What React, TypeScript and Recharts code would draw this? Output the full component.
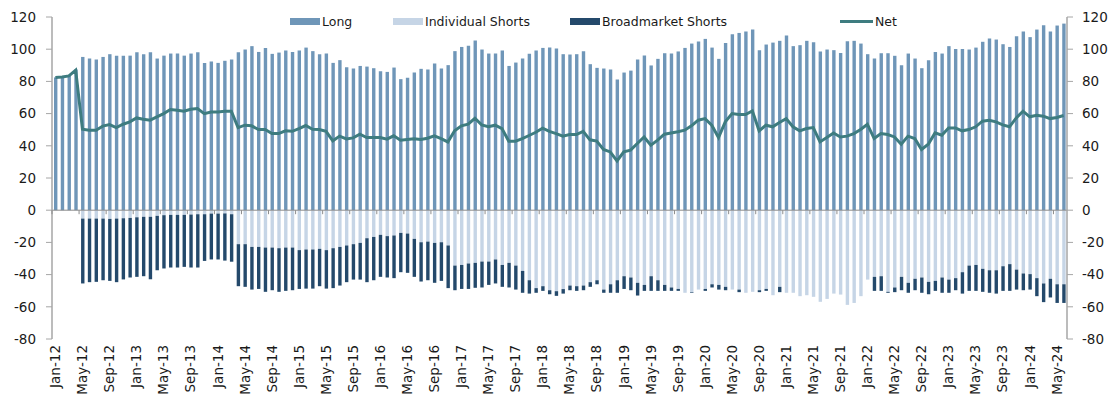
import { ComposedChart, Bar, Line, XAxis, YAxis, ReferenceLine } from 'recharts'

const MONTHS = ['Jan', 'Feb', 'Mar', 'Apr', 'May', 'Jun', 'Jul', 'Aug', 'Sep', 'Oct', 'Nov', 'Dec']

// Jan-12 .. Jun-24
const dates = Array.from({ length: 150 }, (_, i) => `${MONTHS[i % 12]}-${12 + Math.floor(i / 12)}`)

const long = [
  82.5, 83, 83.4, 87.4, 95.2, 94.2, 93.6, 95.2, 96.9, 96,
  96, 96, 98.1, 96.9, 98.1, 94.2, 96, 97.3, 97.3, 96,
  97.3, 98.1, 91.5, 92.3, 91.5, 92.8, 93.6, 98.1, 99.8, 101.9,
  98.3, 100.8, 97.1, 97.9, 99.2, 98.3, 99.2, 101, 98.8, 96.9,
  97.3, 91.5, 93.2, 88.8, 88, 89.6, 89.2, 88.2, 86.3, 85.9,
  88.6, 81.4, 82.2, 85.5, 87.8, 87.4, 91.1, 88, 90.1, 98.8,
  101.4, 102.1, 105.4, 99.8, 97.3, 97.3, 99.2, 89.6, 91.7, 94.2,
  97.1, 99.2, 100.8, 101, 100.4, 96.9, 96.7, 96.9, 98.8, 90.7,
  88.4, 88, 87.4, 81.2, 85.5, 86.7, 93.6, 96.1, 89.9, 94,
  97.5, 97.3, 98.6, 100.8, 103.5, 104.8, 106.4, 101, 94, 103.9,
  109.3, 110.1, 111, 112.2, 99.4, 102.9, 104.1, 105.2, 108.5, 101.9,
  102.5, 105.2, 104.3, 98.6, 99.8, 99.4, 97.7, 105, 105.2, 103.5,
  96.9, 94.2, 97.5, 97.5, 95.9, 90.1, 97.3, 94.2, 88.2, 93.2,
  98.3, 97.3, 101.9, 100.2, 100.2, 99.8, 101, 104.6, 106.6, 106,
  103.1, 101.4, 108.1, 111, 107.5, 112.2, 114.9, 111, 114.7, 115.9
]

const individualShorts = [
  0, 0, 0, 0, -5.2, -5.2, -5.2, -5.2, -5.4, -5.2,
  -5, -4.8, -4.4, -4.1, -4.1, -3.5, -3.1, -2.9, -2.9, -2.9,
  -2.7, -2.5, -2.5, -2.1, -2.1, -2, -2.5, -21.1, -21.1, -22.8,
  -22.8, -23.2, -23.2, -23.6, -23.2, -23.2, -24.8, -24.4, -24.4, -24,
  -24.8, -23.6, -22.8, -21.9, -21.1, -20.3, -17.4, -16.6, -15.3, -16.1,
  -15.7, -14.1, -14.5, -17.8, -19.9, -19.5, -20.3, -19.9, -21.9, -34.4,
  -34, -33.1, -32.7, -31.9, -31.9, -30.6, -34, -32.7, -34.4, -37.7,
  -43.5, -48.4, -47.2, -49.7, -50.3, -49, -46.8, -47.2, -46.8, -44.7,
  -43.5, -49.3, -46, -43.5, -41, -41.8, -45.1, -46.4, -41, -43.5,
  -46.4, -48, -48.9, -51.3, -50.9, -49.3, -48.9, -46, -46.4, -47.6,
  -49.3, -49.3, -51.3, -50.7, -49.7, -48.9, -52.8, -47.6, -51.3, -51.3,
  -53.4, -52.8, -53.8, -56.9, -55.1, -51.8, -52.4, -58.8, -57.6, -53.4,
  -43.1, -41.4, -41, -50.7, -48, -41.4, -45.1, -42.6, -41.8, -44.5,
  -43.9, -41.8, -43.1, -42.2, -38.5, -34.4, -34, -36.4, -37.3, -37.3,
  -34.8, -33.5, -36.9, -39.3, -39.7, -42.2, -45.5, -42.6, -46, -46
]

const broadmarketShorts = [
  0, 0, 0, 0, -40.3, -39.5, -39.3, -38.3, -38.5, -39.5,
  -38, -37, -37, -36.9, -38.8, -33.8, -33.1, -32.7, -32.7, -32.3,
  -32.9, -33.1, -29, -28.5, -28.5, -29.3, -29.5, -26.1, -26.5, -26.5,
  -26.1, -27.5, -26.5, -27.1, -26.9, -26.5, -24.1, -24.3, -24.3, -23.2,
  -23.9, -24.8, -24, -22.8, -22, -22.8, -27.3, -26.9, -26.1, -25.7,
  -26.5, -24.4, -24.4, -23.6, -24.4, -24, -24.8, -24, -26.5, -15.3,
  -14.9, -15.8, -15.5, -16.1, -14.5, -14.9, -13.6, -15.3, -14.9, -13.6,
  -8.3, -2.9, -2.9, -2.5, -2.9, -2.8, -2.9, -2.9, -2.9, -2.9,
  -2.5, -2, -5.3, -7.8, -7.9, -7.9, -7.9, -3.7, -9.1, -6.6,
  -3.7, -2.1, -1.2, 0, -0.4, 0, -1.2, -2, -2.9, -2.1,
  0, -1.6, 0, 0, -1.2, -1.2, 0, -3.3, 0, 0,
  0, 0, 0, 0, 0, 0, 0, 0, 0, 0,
  0, -8.7, -9.1, -0.6, -2.9, -8.3, -6.2, -7.1, -9.5, -7.7,
  -6.2, -9.5, -8.2, -7.5, -13.3, -15.7, -16.1, -14.3, -14, -14.5,
  -15.3, -16.6, -12.4, -10.4, -9.6, -11.2, -11.6, -11.6, -11.6, -11.6
]

const net = [
  82.4, 82.8, 83.4, 87, 50.3, 49.7, 49.7, 52.2, 53.2, 51.3,
  53.4, 54.9, 57.3, 56.5, 55.9, 58, 60, 62.5, 62.1, 61.5,
  62.7, 63.1, 60, 61, 61, 61.5, 61.5, 51.3, 52.8, 52.4,
  50.1, 50.1, 47.6, 47.6, 49.3, 49, 50.7, 52.6, 50.3, 50.1,
  49, 43.1, 46, 44.3, 44.9, 47.2, 45.1, 45.1, 45.1, 44.1,
  46.2, 43.5, 43.9, 44.3, 43.9, 44.7, 46.2, 44.5, 42.4, 49.3,
  52.4, 53.4, 57.1, 53, 51.8, 52.8, 50.7, 42.9, 42.9, 44.5,
  46.4, 48.4, 50.9, 48.9, 47.6, 46, 47, 47, 49, 43.7,
  42.9, 37.7, 36.2, 30.6, 36.2, 37.3, 41.4, 45.5, 40.4, 43.5,
  47.2, 48, 48.7, 49.7, 52.4, 55.9, 56.9, 52.8, 45.1, 54.9,
  60, 59.4, 59.4, 61.7, 49.3, 52.8, 51.8, 54.5, 56.9, 51.8,
  49.3, 50.7, 51.3, 42.4, 45.1, 48, 45.5, 46, 47.6, 50.1,
  53.4, 44.5, 47.6, 47, 45.5, 41, 46, 44.5, 37.7, 41,
  48, 46.6, 51.1, 51.1, 49.3, 50.1, 51.8, 55.3, 55.9, 54.9,
  53, 51.8, 57.3, 61.5, 58, 59, 58.4, 56.9, 57.6, 58.8
]

const yTicks = [-80, -60, -40, -20, 0, 20, 40, 60, 80, 100, 120]

const data = dates.map((d, i) => ({
  date: d,
  long: long[i],
  individual: individualShorts[i],
  broad: broadmarketShorts[i],
  net: net[i]
}))

const W = 1119
const H = 402
const TOP = 17
const AXIS_W = 52
const X_AXIS_H = 63
const PLOT_W = W - AXIS_W * 2
const PLOT_H = H - TOP - X_AXIS_H
const ZERO_Y = TOP + PLOT_H * (120 / 200)
const CAT_W = PLOT_W / dates.length

const FONT = '"DejaVu Sans", sans-serif'
const C_LONG = '#6f96b8'
const C_IND = '#c6d5e6'
const C_BROAD = '#24496b'
const C_NET = '#3e7c80'
const C_AXIS = '#a6a6a6'

function DateTick(props: any) {
  const { x, y, payload } = props
  return (
    <g>
      <line x1={x - CAT_W / 2} x2={x - CAT_W / 2} y1={ZERO_Y} y2={ZERO_Y + 4} stroke="#8c8c8c" strokeWidth={1} />
      <text
        x={x}
        y={y + 4}
        dy="0.35em"
        textAnchor="end"
        transform={`rotate(-90, ${x}, ${y + 4})`}
        fontFamily={FONT}
        fontSize={13.5}
        fill="#1a1a1a"
      >
        {payload.value}
      </text>
    </g>
  )
}

const legendItems = [
  { label: 'Long', color: C_LONG, left: 290, kind: 'bar' },
  { label: 'Individual Shorts', color: C_IND, left: 393, kind: 'bar' },
  { label: 'Broadmarket Shorts', color: C_BROAD, left: 570, kind: 'bar' },
  { label: 'Net', color: C_NET, left: 840, kind: 'line' }
]

function ChartLegend() {
  return (
    <div style={{ position: 'absolute', left: 0, top: 12, width: W, height: 18, pointerEvents: 'none' }}>
      {legendItems.map((it) => (
        <div
          key={it.label}
          style={{
            position: 'absolute',
            left: it.left,
            top: 0,
            height: 18,
            display: 'flex',
            alignItems: 'center',
            fontFamily: FONT,
            fontSize: 12.5,
            color: '#1a1a1a',
            whiteSpace: 'nowrap'
          }}
        >
          <span
            style={{
              display: 'inline-block',
              width: it.kind === 'line' ? 33 : 30,
              height: it.kind === 'line' ? 3 : 7,
              background: it.color,
              marginRight: 2
            }}
          />
          {it.label}
        </div>
      ))}
    </div>
  )
}

export default function App() {
  return (
    <div style={{ position: 'absolute', left: 0, top: 0, width: W, height: H, background: '#fff' }}>
      <ComposedChart
        width={W}
        height={H}
        data={data}
        stackOffset="sign"
        margin={{ top: TOP, right: 0, bottom: 0, left: 0 }}
        barSize={3.4}
      >
        <XAxis
          dataKey="date"
          interval={3}
          height={X_AXIS_H}
          axisLine={false}
          tickLine={false}
          tickSize={0}
          tick={<DateTick />}
        />
        <YAxis
          yAxisId="left"
          width={AXIS_W}
          domain={[-80, 120]}
          ticks={yTicks}
          allowDataOverflow
          axisLine={{ stroke: C_AXIS, strokeWidth: 1.5 }}
          tickLine={{ stroke: C_AXIS }}
          tickSize={6}
          tickMargin={10}
          tick={{ fontFamily: FONT, fontSize: 13.5, fill: '#1a1a1a' }}
        />
        <YAxis
          yAxisId="right"
          orientation="right"
          width={AXIS_W}
          domain={[-80, 120]}
          ticks={yTicks}
          allowDataOverflow
          axisLine={{ stroke: C_AXIS, strokeWidth: 1.5 }}
          tickLine={{ stroke: C_AXIS }}
          tickSize={6}
          tickMargin={9}
          tick={{ fontFamily: FONT, fontSize: 13.5, fill: '#1a1a1a', textAnchor: 'start' }}
        />
        <Bar yAxisId="left" dataKey="long" name="Long" stackId="s" fill={C_LONG} isAnimationActive={false} />
        <Bar yAxisId="left" dataKey="individual" name="Individual Shorts" stackId="s" fill={C_IND} isAnimationActive={false} />
        <Bar yAxisId="left" dataKey="broad" name="Broadmarket Shorts" stackId="s" fill={C_BROAD} isAnimationActive={false} />
        <ReferenceLine yAxisId="left" y={0} stroke="#8c8c8c" strokeWidth={1} />
        <Line
          yAxisId="right"
          dataKey="net"
          name="Net"
          type="linear"
          stroke={C_NET}
          strokeWidth={3}
          dot={false}
          activeDot={false}
          isAnimationActive={false}
        />
      </ComposedChart>
      <ChartLegend />
    </div>
  )
}
